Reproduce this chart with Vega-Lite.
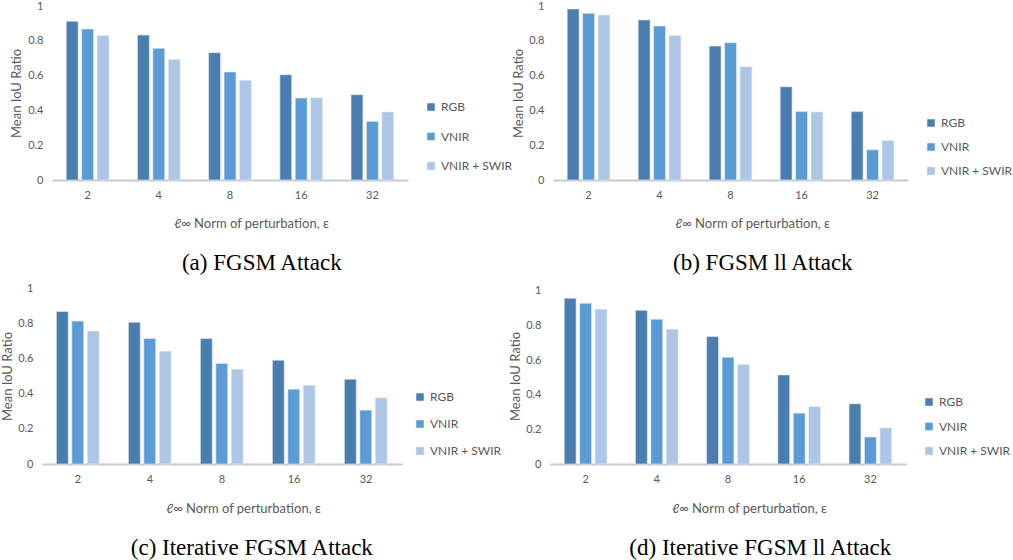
{
  "$schema": "https://vega.github.io/schema/vega-lite/v6.json",
  "background": "white",
  "padding": {"left": 1, "top": 0, "right": 0, "bottom": 0},
  "datasets": {
    "iou": [
      {"panel": "a", "eps": 2, "band": "RGB", "iou": 0.912},
      {"panel": "a", "eps": 2, "band": "VNIR", "iou": 0.868},
      {"panel": "a", "eps": 2, "band": "VNIR + SWIR", "iou": 0.831},
      {"panel": "a", "eps": 4, "band": "RGB", "iou": 0.833},
      {"panel": "a", "eps": 4, "band": "VNIR", "iou": 0.757},
      {"panel": "a", "eps": 4, "band": "VNIR + SWIR", "iou": 0.692},
      {"panel": "a", "eps": 8, "band": "RGB", "iou": 0.732},
      {"panel": "a", "eps": 8, "band": "VNIR", "iou": 0.621},
      {"panel": "a", "eps": 8, "band": "VNIR + SWIR", "iou": 0.573},
      {"panel": "a", "eps": 16, "band": "RGB", "iou": 0.605},
      {"panel": "a", "eps": 16, "band": "VNIR", "iou": 0.471},
      {"panel": "a", "eps": 16, "band": "VNIR + SWIR", "iou": 0.473},
      {"panel": "a", "eps": 32, "band": "RGB", "iou": 0.49},
      {"panel": "a", "eps": 32, "band": "VNIR", "iou": 0.337},
      {"panel": "a", "eps": 32, "band": "VNIR + SWIR", "iou": 0.391},
      {"panel": "b", "eps": 2, "band": "RGB", "iou": 0.983},
      {"panel": "b", "eps": 2, "band": "VNIR", "iou": 0.958},
      {"panel": "b", "eps": 2, "band": "VNIR + SWIR", "iou": 0.948},
      {"panel": "b", "eps": 4, "band": "RGB", "iou": 0.92},
      {"panel": "b", "eps": 4, "band": "VNIR", "iou": 0.885},
      {"panel": "b", "eps": 4, "band": "VNIR + SWIR", "iou": 0.83},
      {"panel": "b", "eps": 8, "band": "RGB", "iou": 0.77},
      {"panel": "b", "eps": 8, "band": "VNIR", "iou": 0.789},
      {"panel": "b", "eps": 8, "band": "VNIR + SWIR", "iou": 0.651},
      {"panel": "b", "eps": 16, "band": "RGB", "iou": 0.536},
      {"panel": "b", "eps": 16, "band": "VNIR", "iou": 0.393},
      {"panel": "b", "eps": 16, "band": "VNIR + SWIR", "iou": 0.391},
      {"panel": "b", "eps": 32, "band": "RGB", "iou": 0.393},
      {"panel": "b", "eps": 32, "band": "VNIR", "iou": 0.174},
      {"panel": "b", "eps": 32, "band": "VNIR + SWIR", "iou": 0.226},
      {"panel": "c", "eps": 2, "band": "RGB", "iou": 0.867},
      {"panel": "c", "eps": 2, "band": "VNIR", "iou": 0.812},
      {"panel": "c", "eps": 2, "band": "VNIR + SWIR", "iou": 0.755},
      {"panel": "c", "eps": 4, "band": "RGB", "iou": 0.805},
      {"panel": "c", "eps": 4, "band": "VNIR", "iou": 0.713},
      {"panel": "c", "eps": 4, "band": "VNIR + SWIR", "iou": 0.641},
      {"panel": "c", "eps": 8, "band": "RGB", "iou": 0.713},
      {"panel": "c", "eps": 8, "band": "VNIR", "iou": 0.571},
      {"panel": "c", "eps": 8, "band": "VNIR + SWIR", "iou": 0.539},
      {"panel": "c", "eps": 16, "band": "RGB", "iou": 0.59},
      {"panel": "c", "eps": 16, "band": "VNIR", "iou": 0.425},
      {"panel": "c", "eps": 16, "band": "VNIR + SWIR", "iou": 0.448},
      {"panel": "c", "eps": 32, "band": "RGB", "iou": 0.482},
      {"panel": "c", "eps": 32, "band": "VNIR", "iou": 0.306},
      {"panel": "c", "eps": 32, "band": "VNIR + SWIR", "iou": 0.376},
      {"panel": "d", "eps": 2, "band": "RGB", "iou": 0.958},
      {"panel": "d", "eps": 2, "band": "VNIR", "iou": 0.929},
      {"panel": "d", "eps": 2, "band": "VNIR + SWIR", "iou": 0.894},
      {"panel": "d", "eps": 4, "band": "RGB", "iou": 0.888},
      {"panel": "d", "eps": 4, "band": "VNIR", "iou": 0.837},
      {"panel": "d", "eps": 4, "band": "VNIR + SWIR", "iou": 0.779},
      {"panel": "d", "eps": 8, "band": "RGB", "iou": 0.737},
      {"panel": "d", "eps": 8, "band": "VNIR", "iou": 0.617},
      {"panel": "d", "eps": 8, "band": "VNIR + SWIR", "iou": 0.575},
      {"panel": "d", "eps": 16, "band": "RGB", "iou": 0.515},
      {"panel": "d", "eps": 16, "band": "VNIR", "iou": 0.294},
      {"panel": "d", "eps": 16, "band": "VNIR + SWIR", "iou": 0.331},
      {"panel": "d", "eps": 32, "band": "RGB", "iou": 0.348},
      {"panel": "d", "eps": 32, "band": "VNIR", "iou": 0.156},
      {"panel": "d", "eps": 32, "band": "VNIR + SWIR", "iou": 0.208}
    ]
  },
  "config": {
    "font": "Lato",
    "view": {"stroke": null},
    "axis": {"grid": false, "ticks": false, "labelColor": "#595959", "labelFontSize": 11, "titleColor": "#595959", "titleFontSize": 13, "titleFontWeight": "normal", "labelFont": "Lato", "titleFont": "Lato"},
    "axisX": {"domainColor": "#c3cad6", "domainWidth": 2, "labelPadding": 9, "titlePadding": 17, "labelAngle": 0, "titleX": 199},
    "axisY": {"domain": false, "labelPadding": 9, "titlePadding": 3},
    "legend": {"labelColor": "#595959", "labelFontSize": 12, "labelFont": "Lato", "symbolType": "square", "symbolSize": 64, "symbolStrokeWidth": 0, "labelOffset": 4, "padding": 0},
    "title": {"font": "Liberation Serif", "fontSize": 23, "fontWeight": "normal", "color": "black", "orient": "bottom", "frame": "bounds", "anchor": "middle", "offset": 22},
    "bar": {"stroke": "#e8ebf0", "strokeWidth": 0.6}
  },
  "resolve": {"legend": {"color": "independent"}},
  "spacing": 7,
  "vconcat": [
    {
      "resolve": {"legend": {"color": "independent"}},
      "spacing": -1,
      "hconcat": [
        {
          "data": {"name": "iou"},
          "transform": [{"filter": "datum.panel === 'a'"}],
          "width": 356, "height": 174,
          "title": {"text": "(a) FGSM Attack"},
          "mark": "bar",
          "encoding": {
            "x": {"field": "eps", "type": "ordinal", "sort": [2, 4, 8, 16, 32], "scale": {"paddingInner": 0.4, "paddingOuter": 0.2}, "axis": {"title": "ℓ∞ Norm of perturbation, ε"}},
            "xOffset": {"field": "band", "type": "nominal", "sort": ["RGB", "VNIR", "VNIR + SWIR"], "scale": {"paddingInner": 0.23}},
            "y": {"field": "iou", "type": "quantitative", "scale": {"domain": [0, 1]}, "axis": {"values": [0, 0.2, 0.4, 0.6, 0.8, 1], "format": "~g", "title": "Mean IoU Ratio", "titlePadding": 4}},
            "color": {"field": "band", "type": "nominal", "sort": ["RGB", "VNIR", "VNIR + SWIR"], "scale": {"domain": ["RGB", "VNIR", "VNIR + SWIR"], "range": ["#4a7eb0", "#5b9bd5", "#adc5e6"]}, "legend": {"title": null, "orient": "none", "legendX": 373, "legendY": 95, "rowPadding": 17.5}}
          }
        },
        {
          "data": {"name": "iou"},
          "transform": [{"filter": "datum.panel === 'b'"}],
          "width": 355, "height": 174,
          "title": {"text": "(b) FGSM ll Attack"},
          "mark": "bar",
          "encoding": {
            "x": {"field": "eps", "type": "ordinal", "sort": [2, 4, 8, 16, 32], "scale": {"paddingInner": 0.4, "paddingOuter": 0.2}, "axis": {"title": "ℓ∞ Norm of perturbation, ε"}},
            "xOffset": {"field": "band", "type": "nominal", "sort": ["RGB", "VNIR", "VNIR + SWIR"], "scale": {"paddingInner": 0.23}},
            "y": {"field": "iou", "type": "quantitative", "scale": {"domain": [0, 1]}, "axis": {"values": [0, 0.2, 0.4, 0.6, 0.8, 1], "format": "~g", "title": "Mean IoU Ratio"}},
            "color": {"field": "band", "type": "nominal", "sort": ["RGB", "VNIR", "VNIR + SWIR"], "scale": {"domain": ["RGB", "VNIR", "VNIR + SWIR"], "range": ["#4a7eb0", "#5b9bd5", "#adc5e6"]}, "legend": {"title": null, "orient": "none", "legendX": 372, "legendY": 111, "rowPadding": 12}}
          }
        }
      ]
    },
    {
      "resolve": {"legend": {"color": "independent"}},
      "spacing": 7,
      "hconcat": [
        {
          "data": {"name": "iou"},
          "transform": [{"filter": "datum.panel === 'c'"}],
          "width": 350, "height": 176,
          "title": {"text": "(c) Iterative FGSM Attack"},
          "mark": "bar",
          "encoding": {
            "x": {"field": "eps", "type": "ordinal", "sort": [2, 4, 8, 16, 32], "scale": {"paddingInner": 0.4, "paddingOuter": 0.2, "range": [-10, 350]}, "axis": {"title": "ℓ∞ Norm of perturbation, ε", "titlePadding": 18, "titleX": 191}},
            "xOffset": {"field": "band", "type": "nominal", "sort": ["RGB", "VNIR", "VNIR + SWIR"], "scale": {"paddingInner": 0.23}},
            "y": {"field": "iou", "type": "quantitative", "scale": {"domain": [0, 1]}, "axis": {"values": [0, 0.2, 0.4, 0.6, 0.8, 1], "format": "~g", "title": "Mean IoU Ratio", "offset": 10}},
            "color": {"field": "band", "type": "nominal", "sort": ["RGB", "VNIR", "VNIR + SWIR"], "scale": {"domain": ["RGB", "VNIR", "VNIR + SWIR"], "range": ["#4a7eb0", "#5b9bd5", "#adc5e6"]}, "legend": {"title": null, "orient": "none", "legendX": 362, "legendY": 103, "rowPadding": 15}}
          }
        },
        {
          "data": {"name": "iou"},
          "transform": [{"filter": "datum.panel === 'd'"}],
          "width": 356, "height": 176,
          "title": {"text": "(d) Iterative FGSM ll Attack"},
          "mark": "bar",
          "encoding": {
            "x": {"field": "eps", "type": "ordinal", "sort": [2, 4, 8, 16, 32], "scale": {"paddingInner": 0.4, "paddingOuter": 0.2}, "axis": {"title": "ℓ∞ Norm of perturbation, ε", "titlePadding": 18}},
            "xOffset": {"field": "band", "type": "nominal", "sort": ["RGB", "VNIR", "VNIR + SWIR"], "scale": {"paddingInner": 0.23}},
            "y": {"field": "iou", "type": "quantitative", "scale": {"domain": [0, 1.017], "nice": false}, "axis": {"values": [0, 0.2, 0.4, 0.6, 0.8, 1], "format": "~g", "title": "Mean IoU Ratio"}},
            "color": {"field": "band", "type": "nominal", "sort": ["RGB", "VNIR", "VNIR + SWIR"], "scale": {"domain": ["RGB", "VNIR", "VNIR + SWIR"], "range": ["#4a7eb0", "#5b9bd5", "#adc5e6"]}, "legend": {"title": null, "orient": "none", "legendX": 373, "legendY": 108, "rowPadding": 12.5}}
          }
        }
      ]
    }
  ]
}
